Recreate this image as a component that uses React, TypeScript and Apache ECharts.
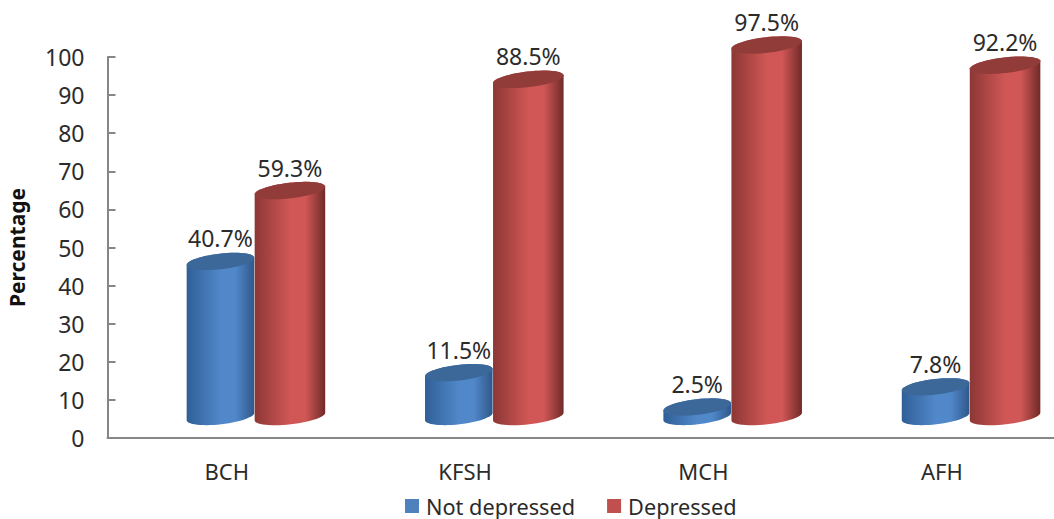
import React, { useEffect, useRef } from "react";
import * as echarts from "echarts";

const categories = ["BCH", "KFSH", "MCH", "AFH"];
const notDepressed = [40.7, 11.5, 2.5, 7.8];
const depressed = [59.3, 88.5, 97.5, 92.2];
const yTicks = { min: 0, max: 100, step: 10 };

const FONT = "'Noto Sans', sans-serif";
const TEXT = "#2b2b2b";

// Cylinder geometry, in pixels
const RY = 7.8;
const TILT = (6.5 * Math.PI) / 180;
const DEPTH_LIFT = 21.5; // the 3D floor sits above the axis line
const GROUP_SHIFT = 27.75; // the pair meets right of the category centre
const ARC_STEPS = 28;

type Palette = { top: string; edgeL: string; edgeR: string; mid: string };

const bluePalette: Palette = { top: "#3c6899", edgeL: "#2f5f97", mid: "#5188ca", edgeR: "#2f588a" };
const redPalette: Palette = { top: "#923c3a", edgeL: "#8c3735", mid: "#d05755", edgeR: "#702a29" };

// Half of a tilted ellipse, sweeping from angle `from` to angle `to`
function halfEllipse(cx: number, cy: number, rx: number, from: number, to: number) {
  const pts: number[][] = [];
  for (let i = 0; i <= ARC_STEPS; i++) {
    const t = from + ((to - from) * i) / ARC_STEPS;
    const a = rx * Math.cos(t);
    const b = RY * Math.sin(t);
    pts.push([cx + a * Math.cos(TILT) + b * Math.sin(TILT), cy - a * Math.sin(TILT) + b * Math.cos(TILT)]);
  }
  return pts;
}

function cylinder(side: -1 | 1, rx: number, palette: Palette) {
  return (_params: any, api: any) => {
    const idx = api.value(0);
    const value = api.value(1);
    const [catX, axisY] = api.coord([idx, 0]);
    const cx = catX + GROUP_SHIFT + side * rx;
    const floorY = axisY - DEPTH_LIFT;
    const topY = api.coord([idx, value])[1] - DEPTH_LIFT;

    // Outline: base front arc right to left, then the cap's back arc left to right
    const body = [
      ...halfEllipse(cx, floorY, rx, 0, Math.PI),
      ...halfEllipse(cx, topY, rx, Math.PI, 2 * Math.PI),
    ];
    const cap = [
      ...halfEllipse(cx, topY, rx, 0, Math.PI),
      ...halfEllipse(cx, topY, rx, Math.PI, 2 * Math.PI),
    ];

    return {
      type: "group",
      children: [
        {
          type: "polygon",
          shape: { points: body },
          style: {
            fill: {
              type: "linear",
              x: 0,
              y: 0,
              x2: 1,
              y2: 0,
              colorStops: [
                { offset: 0, color: palette.edgeL },
                { offset: 0.5, color: palette.mid },
                { offset: 0.72, color: palette.mid },
                { offset: 1, color: palette.edgeR },
              ],
            },
          },
        },
        { type: "polygon", shape: { points: cap }, style: { fill: palette.top } },
        {
          type: "text",
          style: {
            text: `${value}%`,
            x: cx,
            y: topY - 23,
            align: "center",
            verticalAlign: "middle",
            fill: TEXT,
            font: `23px ${FONT}`,
          },
        },
      ],
    };
  };
}

const App: React.FC = () => {
  const ref = useRef<HTMLDivElement>(null);

  useEffect(() => {
    const chart = echarts.init(ref.current!, undefined, { renderer: "svg" });
    chart.setOption({
      animation: false,
      backgroundColor: "#ffffff",
      grid: { left: 107.5, right: -7, top: 57, bottom: 81, outerBoundsMode: "none" },
      legend: {
        left: 400,
        top: 490,
        itemWidth: 14,
        itemHeight: 14,
        itemGap: 32,
        icon: "rect",
        textStyle: { fontFamily: FONT, fontSize: 21.7, lineHeight: 22, color: TEXT, padding: [0, 0, 0, 2] },
        data: ["Not depressed", "Depressed"],
      },
      xAxis: {
        type: "category",
        data: categories,
        axisLine: { lineStyle: { color: "#868686", width: 2 } },
        axisTick: { length: 8, lineStyle: { color: "#868686", width: 2 } },
        axisLabel: { fontFamily: FONT, fontSize: 22, color: TEXT, margin: 22 },
      },
      yAxis: {
        type: "value",
        min: yTicks.min,
        max: yTicks.max,
        interval: yTicks.step,
        name: "Percentage",
        nameLocation: "middle",
        nameGap: 80,
        nameTextStyle: { fontFamily: FONT, fontSize: 21, fontWeight: "bold", color: "#111111" },
        splitLine: { show: false },
        axisLine: { show: true, lineStyle: { color: "#868686", width: 2 } },
        axisTick: { show: true, inside: true, length: 8, lineStyle: { color: "#868686", width: 2 } },
        axisLabel: { fontFamily: FONT, fontSize: 23, color: TEXT, margin: 23 },
      },
      series: [
        {
          type: "custom",
          name: "Not depressed",
          itemStyle: { color: "#4f81bd" },
          renderItem: cylinder(-1, 34, bluePalette),
          encode: { x: 0, y: 1 },
          clip: false,
          data: notDepressed.map((v, i) => [i, v]),
        },
        {
          type: "custom",
          name: "Depressed",
          itemStyle: { color: "#c0504d" },
          renderItem: cylinder(1, 35.5, redPalette),
          encode: { x: 0, y: 1 },
          clip: false,
          data: depressed.map((v, i) => [i, v]),
        },
      ],
    });
    return () => chart.dispose();
  }, []);

  return <div ref={ref} style={{ position: "fixed", left: 0, top: 0, width: 1054, height: 519 }} />;
};

export default App;
